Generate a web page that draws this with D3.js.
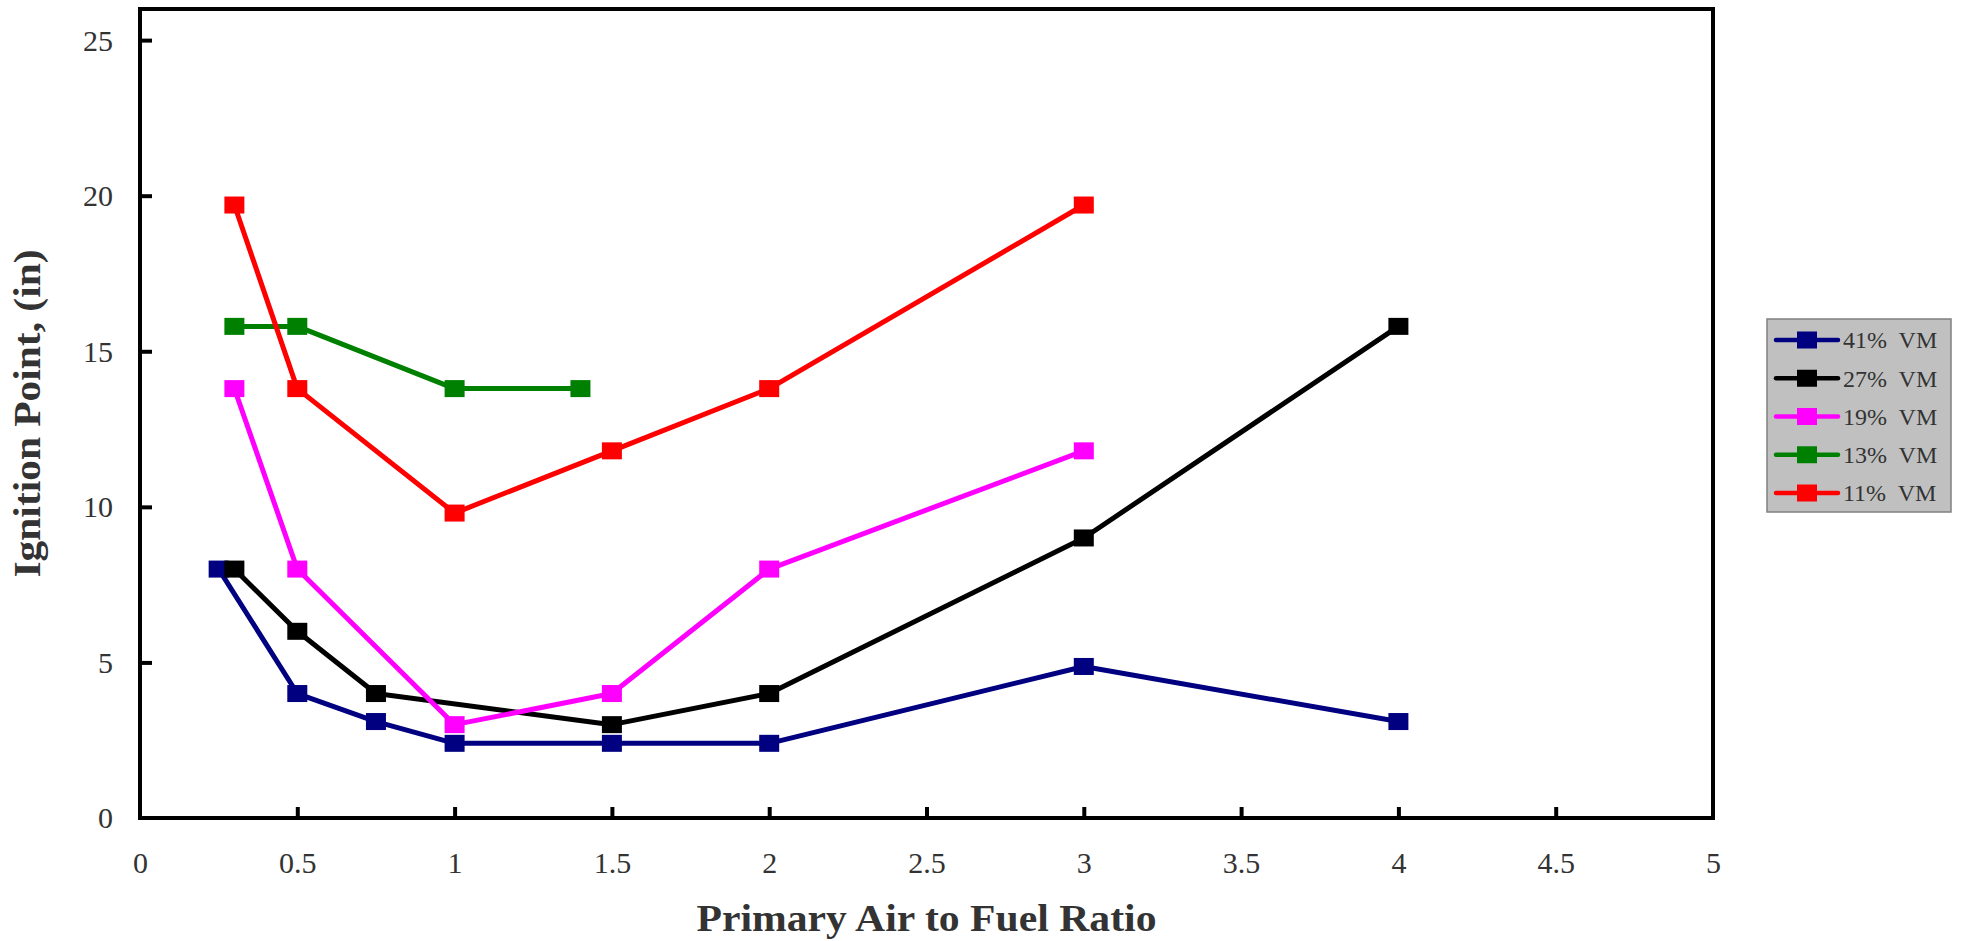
<!DOCTYPE html>
<html>
<head>
<meta charset="utf-8">
<script src="https://cdn.jsdelivr.net/npm/d3@7"></script>
<style>
  html, body { margin: 0; padding: 0; background: #fff; }
  svg { display: block; }
  text { font-family: "Liberation Serif", "Times New Roman", serif; }
</style>
</head>
<body>
<svg id="chart" width="1961" height="941"></svg>
<script>
// ---- data ----
const seriesNames = ["41%\u00A0 VM", "27%\u00A0 VM", "19%\u00A0 VM", "13%\u00A0 VM", "11%\u00A0 VM"];
const seriesColors = ["#000080", "#000000", "#ff00ff", "#008000", "#ff0000"];

const x41 = [0.25, 0.5, 0.75, 1, 1.5, 2, 3, 4];
const y41 = [8, 4, 3.1, 2.4, 2.4, 2.4, 4.87, 3.1];

const x27 = [0.3, 0.5, 0.75, 1.5, 2, 3, 4];
const y27 = [8, 6, 4, 3, 4, 9, 15.8];

const x19 = [0.3, 0.5, 1, 1.5, 2, 3];
const y19 = [13.8, 8, 3, 4, 8, 11.8];

const x13 = [0.3, 0.5, 1, 1.4];
const y13 = [15.8, 15.8, 13.8, 13.8];

const x11 = [0.3, 0.5, 1, 1.5, 2, 3];
const y11 = [19.7, 13.8, 9.8, 11.8, 13.8, 19.7];

const xTicks = [0, 0.5, 1, 1.5, 2, 2.5, 3, 3.5, 4, 4.5, 5];
const yTicks = [0, 5, 10, 15, 20, 25];
const xTitle = "Primary Air to Fuel Ratio";
const yTitle = "Ignition Point, (in)";

const seriesX = [x41, x27, x19, x13, x11];
const seriesY = [y41, y27, y19, y13, y11];
const series = seriesNames.map((name, i) => ({
  name, color: seriesColors[i],
  points: seriesX[i].map((xv, j) => ({ x: xv, y: seriesY[i][j] }))
}));

// ---- layout ----
const svg = d3.select("#chart");
const L = 140, R = 1713, T = 9, B = 818;
const xScale = d3.scaleLinear().domain([0, 5]).range([L, R]);
const yScale = d3.scaleLinear().domain([0, 26]).range([B, T]);
const textColor = "#333333";
const MW = 20, MH = 17;

// plot frame
svg.append("rect")
  .attr("x", L).attr("y", T).attr("width", R - L).attr("height", B - T)
  .attr("fill", "#fff").attr("stroke", "#000").attr("stroke-width", 4);

// x axis ticks (inward)
const xAxis = d3.axisBottom(xScale).tickValues(xTicks).tickSize(0)
  .tickFormat(d3.format("~g"));
const gx = svg.append("g").attr("transform", `translate(0,${B})`).call(xAxis);
gx.select(".domain").remove();
gx.selectAll(".tick text")
  .attr("y", 55).attr("dy", 0)
  .attr("font-size", 30).attr("fill", textColor)
  .style("font-family", '"Liberation Serif", "Times New Roman", serif');
gx.selectAll(".tick").filter(d => d > 0 && d < 5).append("line")
  .attr("y1", 0).attr("y2", -11).attr("stroke", "#000").attr("stroke-width", 4);

// y axis ticks (inward)
const yAxis = d3.axisLeft(yScale).tickValues(yTicks).tickSize(0)
  .tickFormat(d3.format("~g"));
const gy = svg.append("g").attr("transform", `translate(${L},0)`).call(yAxis);
gy.select(".domain").remove();
gy.selectAll(".tick text")
  .attr("x", -27).attr("dy", "0.33em")
  .attr("font-size", 30).attr("fill", textColor)
  .style("font-family", '"Liberation Serif", "Times New Roman", serif');
gy.selectAll(".tick").filter(d => d > 0).append("line")
  .attr("x1", 0).attr("x2", 12).attr("stroke", "#000").attr("stroke-width", 4);

// axis titles
svg.append("text")
  .attr("x", (L + R) / 2).attr("y", 931)
  .attr("text-anchor", "middle")
  .attr("font-size", 38).attr("font-weight", "bold").attr("fill", textColor)
  .attr("textLength", 460).attr("lengthAdjust", "spacingAndGlyphs")
  .text(xTitle);
svg.append("text")
  .attr("transform", `translate(40,${(T + B) / 2}) rotate(-90)`)
  .attr("text-anchor", "middle")
  .attr("font-size", 38).attr("font-weight", "bold").attr("fill", textColor)
  .attr("textLength", 328).attr("lengthAdjust", "spacingAndGlyphs")
  .text(yTitle);

// series
const line = d3.line().x(d => xScale(d.x)).y(d => yScale(d.y));
const plot = svg.append("g");
series.forEach(s => {
  const g = plot.append("g");
  g.append("path").datum(s.points)
    .attr("d", line).attr("fill", "none")
    .attr("stroke", s.color).attr("stroke-width", 5)
    .attr("stroke-linejoin", "round");
  g.selectAll("rect").data(s.points).join("rect")
    .attr("x", d => xScale(d.x) - MW / 2).attr("y", d => yScale(d.y) - MH / 2)
    .attr("width", MW).attr("height", MH).attr("fill", s.color);
});

// legend
const lg = svg.append("g");
lg.append("rect")
  .attr("x", 1767).attr("y", 319).attr("width", 184).attr("height", 193)
  .attr("fill", "#c0c0c0").attr("stroke", "#808080").attr("stroke-width", 1.5);
const rowY = d3.scalePoint().domain(seriesNames).range([340, 493]);
series.forEach(s => {
  const y = rowY(s.name);
  lg.append("line").attr("x1", 1776).attr("x2", 1838).attr("y1", y).attr("y2", y)
    .attr("stroke", s.color).attr("stroke-width", 4.5).attr("stroke-linecap", "round");
  lg.append("rect").attr("x", 1807 - MW / 2).attr("y", y - MH / 2)
    .attr("width", MW).attr("height", MH).attr("fill", s.color);
  lg.append("text").attr("x", 1843).attr("y", y).attr("dy", "0.35em")
    .attr("font-size", 24).attr("fill", textColor).text(s.name);
});
</script>
</body>
</html>
